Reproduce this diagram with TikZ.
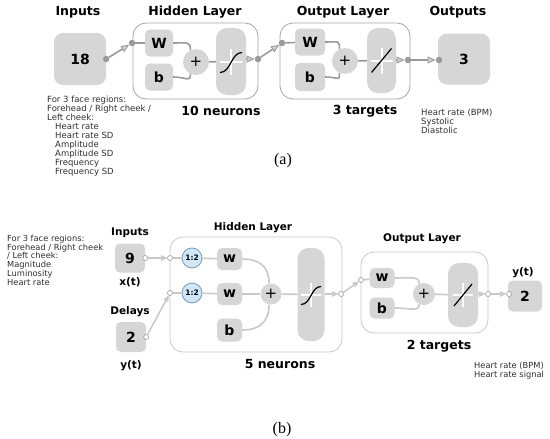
\documentclass[tikz,border=0pt]{standalone}
\usepackage{fontspec}
\setsansfont{DejaVu Sans}
\newfontfamily\captfont{Liberation Serif}
\usetikzlibrary{arrows.meta}
\definecolor{boxgrey}{HTML}{D6D6D6}
\definecolor{linegrey}{HTML}{9A9A9A}
\definecolor{pale}{HTML}{C9C9C9}
\definecolor{delayblue}{HTML}{CFE8F8}
\definecolor{delayedge}{HTML}{7C9CB6}
\definecolor{notegrey}{HTML}{2E2E2E}
\newcommand{\lyrfont}{\sffamily\bfseries\fontsize{12.5}{14}\selectfont}
\newcommand{\lyrfontb}{\sffamily\bfseries\fontsize{10.5}{12}\selectfont}
\newcommand{\numfont}{\sffamily\bfseries\fontsize{14}{16}\selectfont}
\newcommand{\notefont}{\sffamily\fontsize{8.5}{9}\selectfont}
\tikzset{
  layer/.style={draw=#1, line width=0.8pt, rounded corners=13pt, fill=white},
  cell/.style={fill=boxgrey, rounded corners=5pt, inner sep=0pt},
  actbox/.style={fill=boxgrey, rounded corners=11pt, inner sep=0pt},
  sumnode/.style={circle, fill=boxgrey, inner sep=0pt, font=\sffamily\fontsize{15}{15}\selectfont},
  dot/.style={circle, fill=linegrey, inner sep=0pt, minimum size=6.5pt},
  odot/.style={circle, draw=gray!80, fill=white, line width=0.6pt, inner sep=0pt, minimum size=5pt},
  delaynode/.style={circle, draw=delayedge, fill=delayblue, line width=0.8pt, inner sep=0pt,
    minimum size=20pt, font=\sffamily\bfseries\fontsize{7.5}{7.5}\selectfont},
  linka/.style={draw=linegrey, line width=1.6pt},
  linkb/.style={draw=pale, line width=1.6pt},
  tipa/.style={-{Triangle[length=8pt,width=7pt,fill=gray!40,line width=0.8pt]}},
  tipb/.style={-{Triangle[length=6pt,width=5.5pt,fill=pale,line width=0.5pt]}},
  note/.style={anchor=north west, align=left, text=notegrey, inner sep=0pt, font=\notefont},
  capt/.style={font=\captfont\fontsize{16}{16}\selectfont}
}
\begin{document}
\begin{tikzpicture}[x=1pt, y=-1pt]
\useasboundingbox (0,0) rectangle (550,439);
% (a) static network
\node[font=\lyrfont] (ttlin) at (78,12) {Inputs};
\node[font=\lyrfont] (ttlhid) at (195,12) {Hidden Layer};
\node[font=\lyrfont] (ttlout) at (343,12) {Output Layer};
\node[font=\lyrfont] (ttlres) at (458,12) {Outputs};
\node[cell, rounded corners=9pt, minimum width=52pt, minimum height=52pt, font=\numfont] (inp) at (80,59) {18};
\node[layer=gray!70, minimum width=125pt, minimum height=76pt] (hid) at (195.5,61) {};
\node[layer=gray!70, minimum width=130pt, minimum height=76pt] (outl) at (345,61) {};
\node[cell, minimum width=28pt, minimum height=27pt, font=\numfont] (hw) at (159,43) {W};
\node[cell, minimum width=28pt, minimum height=27pt, font=\numfont] (hb) at (159,77) {b};
\node[sumnode, minimum size=26pt] (hsum) at (196,62) {+};
\node[actbox, minimum width=30pt, minimum height=67pt] (hact) at (231,61.5) {};
\node[cell, minimum width=30pt, minimum height=27pt, font=\numfont] (ow) at (310,42) {W};
\node[cell, minimum width=30pt, minimum height=28pt, font=\numfont] (ob) at (310,77) {b};
\node[sumnode, minimum size=26pt] (osum) at (345,61) {+};
\node[actbox, minimum width=29pt, minimum height=65pt] (oact) at (381.5,60.5) {};
\node[cell, rounded corners=9pt, minimum width=52pt, minimum height=51pt, font=\numfont] (res) at (464,59) {3};
\node[dot] (d1) at (inp.east) {};
\node[dot] (d2) at (132,43) {};
\node[dot] (d3) at (258,59) {};
\node[dot] (d4) at (282,43) {};
\node[dot] (d5) at (408,60) {};
\node[dot] (d6) at (439,60) {};
\draw[linka, tipa] (d1) -- (d2);
\draw[linka] (d2) -- (hw);
\draw[linka] (hw.east) .. controls +(14,0) and +(0,-9) .. (hsum.115);
\draw[linka] (hb.east) .. controls +(14,0) and +(0,9) .. (hsum.245);
\draw[linka] (hsum) -- (hact);
\draw[linka, tipa] (hact.east |- d3) -- (d3);
\draw[linka, tipa] (d3) -- (d4);
\draw[linka] (d4) -- (ow);
\draw[linka] (ow.east) .. controls +(14,0) and +(0,-9) .. (osum.115);
\draw[linka] (ob.east) .. controls +(14,0) and +(0,9) .. (osum.245);
\draw[linka] (osum) -- (oact);
\draw[linka, tipa] (oact.east |- d5) -- (d5);
\draw[linka, tipa] (d5) -- (d6);
\begin{scope}[shift={(hact.center)}]
\draw[white, line width=2pt] (-11,0) -- (11,0) (0,-13) -- (0,13);
\draw[line width=1.2pt] (-11,11) .. controls (0,11) and (0,-9) .. (11,-9);
\end{scope}
\begin{scope}[shift={(oact.center)}]
\draw[white, line width=2pt] (-11,0) -- (11,0) (0,-13) -- (0,13);
\draw[line width=1.2pt] (-10,12) -- (10,-12);
\end{scope}
\node[font=\lyrfont] (nhid) at (221,111) {10 neurons};
\node[font=\lyrfont] (nout) at (365,111) {3 targets};
\node[note] (ina) at (47,96) {For 3 face regions:\\Forehead / Right cheek /\\Left cheek:\\
  \hspace*{8pt}Heart rate\\\hspace*{8pt}Heart rate SD\\\hspace*{8pt}Amplitude\\
  \hspace*{8pt}Amplitude SD\\\hspace*{8pt}Frequency\\\hspace*{8pt}Frequency SD};
\node[note] (outa) at (421,109) {Heart rate (BPM)\\Systolic\\Diastolic};
\node[capt] (capa) at (283,161) {(a)};
% (b) dynamic network with delays
\node[font=\lyrfontb] (ttlinb) at (130,233) {Inputs};
\node[font=\lyrfontb] (ttlhidb) at (253,228) {Hidden Layer};
\node[font=\lyrfontb] (ttloutb) at (422,239) {Output Layer};
\node[cell, minimum width=30pt, minimum height=29pt, font=\numfont] (inx) at (130,258) {9};
\node[font=\lyrfontb] (lblx) at (130,282) {x(t)};
\node[font=\lyrfontb] (lbldl) at (130,312) {Delays};
\node[cell, minimum width=30pt, minimum height=30pt, font=\numfont] (dly) at (131,337) {2};
\node[font=\lyrfontb] (lblyin) at (131,366) {y(t)};
\node[layer=pale, minimum width=172pt, minimum height=115pt] (hidb) at (256,294.5) {};
\node[layer=pale, minimum width=127pt, minimum height=81pt] (outb) at (424.5,292.5) {};
\node[delaynode] (tdl1) at (192,258) {1:2};
\node[delaynode] (tdl2) at (192,293) {1:2};
\node[cell, minimum width=25pt, minimum height=22pt, font=\numfont] (w1) at (229.5,259) {w};
\node[cell, minimum width=25pt, minimum height=22pt, font=\numfont] (w2) at (229.5,294) {w};
\node[cell, minimum width=25pt, minimum height=23pt, font=\numfont] (bb) at (229.5,330) {b};
\node[sumnode, minimum size=21pt] (sumb) at (271,294) {+};
\node[actbox, minimum width=27pt, minimum height=93pt] (actb) at (311,294.5) {};
\node[cell, minimum width=25pt, minimum height=20pt, font=\numfont] (ow2) at (382,278) {w};
\node[cell, minimum width=25pt, minimum height=21pt, font=\numfont] (ob2) at (382,308) {b};
\node[sumnode, minimum size=22pt] (osumb) at (424,294) {+};
\node[actbox, minimum width=30pt, minimum height=64pt] (oactb) at (463,295) {};
\node[cell, minimum width=34pt, minimum height=31pt, font=\numfont] (yout) at (525,296) {2};
\node[font=\lyrfontb] (lblyout) at (523,273) {y(t)};
\node[odot] (xo) at (inx.east) {};
\node[odot] (xi) at (170,258) {};
\node[odot] (yo) at (dly.east) {};
\node[odot] (yi) at (170,293) {};
\node[odot] (ho) at (341,294) {};
\node[odot] (oi) at (361,280) {};
\node[odot] (oo) at (488,294) {};
\node[odot] (yin) at (509,294) {};
\draw[linkb, tipb] (xo) -- (xi);
\draw[linkb, tipb] (yo) -- (yi);
\draw[linkb] (xi) -- (tdl1);
\draw[linkb] (yi) -- (tdl2);
\draw[linkb] (tdl1) -- (w1);
\draw[linkb] (tdl2) -- (w2);
\draw[linkb] (w1.east) .. controls +(22,0) and +(0,-12) .. (sumb.100);
\draw[linkb] (w2) -- (sumb);
\draw[linkb] (bb.east) .. controls +(22,0) and +(0,12) .. (sumb.260);
\draw[linkb] (sumb) -- (actb);
\draw[linkb, tipb] (actb.east |- ho) -- (ho);
\draw[linkb, tipb] (ho) -- (oi);
\draw[linkb] (oi) -- (ow2);
\draw[linkb] (ow2.east) .. controls +(16,0) and +(0,-8) .. (osumb.115);
\draw[linkb] (ob2.east) .. controls +(16,0) and +(0,8) .. (osumb.245);
\draw[linkb] (osumb) -- (oactb);
\draw[linkb, tipb] (oactb.east |- oo) -- (oo);
\draw[linkb, tipb] (oo) -- (yin);
\begin{scope}[shift={(actb.center)}]
\draw[white, line width=2pt] (-10,0) -- (10,0) (0,-12) -- (0,12);
\draw[line width=1.2pt] (-10,10) .. controls (0,10) and (0,-8) .. (10,-8);
\end{scope}
\begin{scope}[shift={(oactb.center)}]
\draw[white, line width=2pt] (-10,0) -- (10,0) (0,-12) -- (0,12);
\draw[line width=1.2pt] (-9,11) -- (9,-11);
\end{scope}
\node[font=\lyrfont] (nhidb) at (280,364) {5 neurons};
\node[font=\lyrfont] (noutb) at (439,346) {2 targets};
\node[note, font=\sffamily\fontsize{8.3}{8.7}\selectfont] (inb) at (7,235) {For 3 face regions:\\
  Forehead / Right cheek\\/ Left cheek:\\Magnitude\\Luminosity\\Heart rate};
\node[note, font=\sffamily\fontsize{8.3}{8.7}\selectfont] (outbtxt) at (474,362) {Heart rate (BPM)\\Heart rate signal};
\node[capt] (capb) at (282,430) {(b)};
\end{tikzpicture}
\end{document}
